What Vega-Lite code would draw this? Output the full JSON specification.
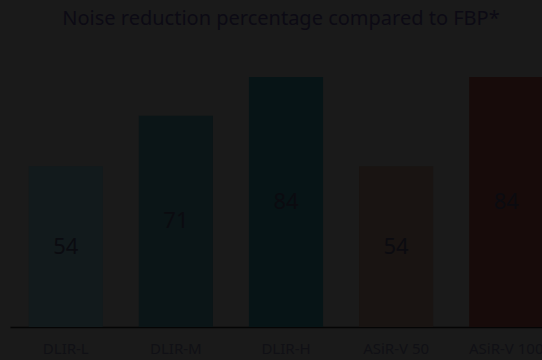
{
  "$schema": "https://vega.github.io/schema/vega-lite/v6.json",
  "autosize": "none",
  "width": 552,
  "height": 250,
  "padding": {"left": 10, "top": 77, "right": 0, "bottom": 33},
  "background": "#1a1a1a",
  "title": {"text": "Noise reduction percentage compared to FBP*", "font": "Noto Sans", "fontSize": 20, "fontWeight": "normal", "color": "#0c0a14", "anchor": "middle", "offset": 48, "dx": -5},
  "data": {"values": [
    {"method": "DLIR-L", "value": 54},
    {"method": "DLIR-M", "value": 71},
    {"method": "DLIR-H", "value": 84},
    {"method": "ASiR-V 50", "value": 54},
    {"method": "ASiR-V 100", "value": 84}
  ]},
  "config": {"view": {"stroke": null}},
  "encoding": {
    "x": {"field": "method", "type": "nominal", "sort": null,
      "scale": {"paddingInner": 0.327, "paddingOuter": 0.17},
      "axis": {"title": null, "labelAngle": 0, "labelFont": "Noto Sans", "labelFontSize": 15, "labelColor": "#101015", "labelPadding": 14, "ticks": false, "domainColor": "#050505", "domainWidth": 1.5, "grid": false}}
  },
  "layer": [
    {"mark": {"type": "bar"},
     "encoding": {
       "y": {"field": "value", "type": "quantitative", "scale": {"domain": [0, 84], "nice": false, "zero": true}, "axis": null},
       "color": {"field": "method", "type": "nominal", "legend": null,
         "scale": {"domain": ["DLIR-L", "DLIR-M", "DLIR-H", "ASiR-V 50", "ASiR-V 100"], "range": ["#121a1c", "#0b1517", "#071416", "#191412", "#170b0a"]}}
     }},
    {"mark": {"type": "text", "font": "Noto Sans", "fontSize": 22, "color": "#0b0b10", "baseline": "middle"},
     "encoding": {
       "y": {"field": "value", "type": "quantitative", "scale": {"domain": [0, 168], "nice": false}, "axis": null},
       "text": {"field": "value", "type": "quantitative"}
     }}
  ],
  "resolve": {"scale": {"y": "independent"}}
}
